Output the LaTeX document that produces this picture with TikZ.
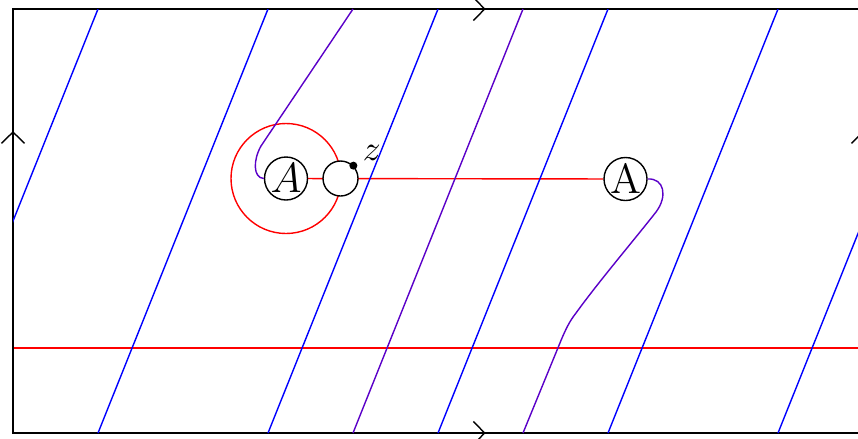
\documentclass[tikz,border=0pt]{standalone}
\usetikzlibrary{backgrounds,calc,arrows.meta}
\definecolor{strand}{RGB}{90,0,200}
\tikzset{
  puncture/.style={draw, circle, fill=white, inner sep=0pt, minimum size=4.3mm,
    font=\fontsize{13pt}{15pt}\selectfont},
  hole/.style={draw, circle, fill=white, inner sep=0pt, minimum size=3.5mm},
}
\begin{document}
\begin{tikzpicture}[x=1mm,y=1mm,>={Straight Barb[length=3.2pt,width=6.6pt]}]
\useasboundingbox (0,0) rectangle (85.8,43.8);
\coordinate (sw) at (1.3,0.5);
\coordinate (nw) at (1.3,42.9);
\coordinate (ne) at (86.3,42.9);
\coordinate (se) at (86.3,0.5);
% frame, sides glued
\draw (sw) -- (nw) -- (ne) -- (se) -- cycle;
\draw[->] (sw) -- ($(sw)!0.712!(nw)$);
\draw[->] (se) -- ($(se)!0.712!(ne)$);
\draw[->] (nw) -- ($(nw)!0.556!(ne)$);
\draw[->] (sw) -- ($(sw)!0.556!(se)$);
% straight curves
\begin{scope}
\clip (sw) rectangle (ne);
\foreach \xb in {-7.2,9.8,26.8,43.8,60.8,77.8}
  \draw[blue] (\xb,0.5) -- ++(17,42.4);
\end{scope}
\node[puncture] (A1) at (28.6,25.95) {$A$};
\node[hole] (p) at (34.05,25.95) {};
\node[puncture] (A2) at (62.55,25.9) {$\mathrm{A}$};
\fill (p.45) circle (0.4);
\node[anchor=south west, inner sep=0pt, xshift=2.5pt, yshift=1.2pt] (z) at (p.45) {$z$};
\coordinate (t1) at (35.3,42.9);
\coordinate (b1) at (35.3,0.5);
\coordinate (t2) at (52.3,42.9);
\coordinate (b2) at (52.3,0.5);
\coordinate (l) at (1.3,9);
\coordinate (r) at (86.3,9);
\begin{pgfonlayer}{background}
\draw[red] (A1.center) circle (5.5);
\draw[red] (A1) -- (A2);
\draw[red] (l) -- (r);
\end{pgfonlayer}
% the arc through the torus
\draw[strand] (A1.west) .. controls (25.3,26.0) and (25.3,27.8) .. (26.1,29.2) -- (t1);
\draw[strand] (b1) -- (t2);
\draw[strand] (A2.east) .. controls (66.4,26.0) and (66.8,24.2) .. (65.6,22.6)
  .. controls (63,19.3) and (60,15.8) .. (57.6,12.5)
  .. controls (56.9,11.6) and (56.6,10.9) .. (56.2,10.0) -- (b2);
\end{tikzpicture}
\end{document}
